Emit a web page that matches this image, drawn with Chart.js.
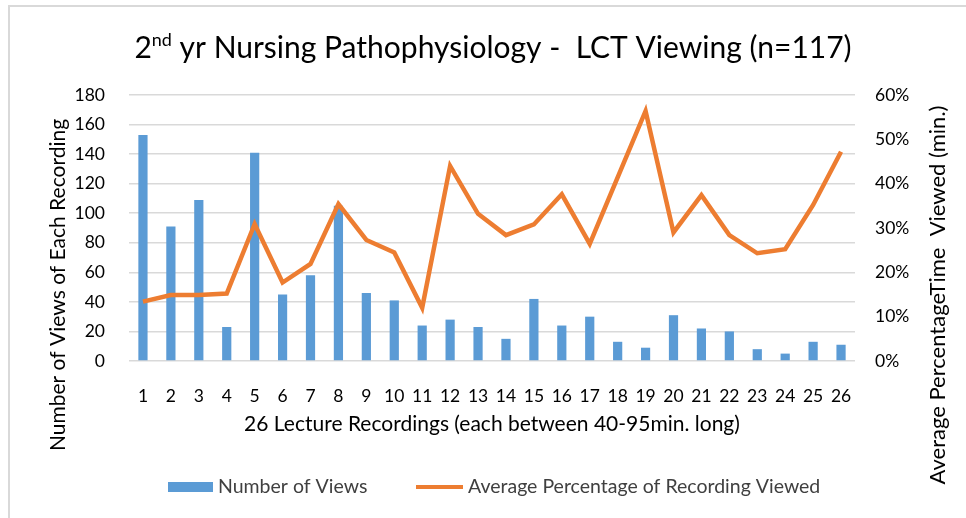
<!DOCTYPE html>
<html>
<head>
<meta charset="utf-8">
<script src="https://cdn.jsdelivr.net/npm/chart.js@4.4.1/dist/chart.umd.min.js"></script>
<style>
  html, body { margin: 0; padding: 0; background: #fff; }
  #wrap { width: 966px; height: 518px; position: relative; }
</style>
</head>
<body>
<div id="wrap"><canvas id="lct"></canvas></div>
<script>
// values
var recordings = ['1','2','3','4','5','6','7','8','9','10','11','12','13','14','15','16','17','18','19','20','21','22','23','24','25','26'];
var views = [153, 91, 109, 23, 141, 45, 58, 105, 46, 41, 24, 28, 23, 15, 42, 24, 30, 13, 9, 31, 22, 20, 8, 5, 13, 11];
var avgPct = [13.4, 14.9, 14.9, 15.2, 30.9, 17.7, 21.9, 35.4, 27.3, 24.5, 12.0, 44.0, 33.2, 28.4, 30.8, 37.6, 26.4, 41.4, 56.4, 29.0, 37.4, 28.4, 24.3, 25.2, 35.2, 47.2];

var FONT = 'Lato, "Open Sans", sans-serif';
var blue = '#5B9BD5';
var orange = '#ED7D31';
var txt = '#404040';

// title, axis titles, legend and frame
var decor = {
  id: 'decor',
  afterDraw: function(chart) {
    var c = chart.ctx;
    var a = chart.chartArea;
    c.save();
    // frame
    c.strokeStyle = '#d9d9d9';
    c.lineWidth = 2;
    c.strokeRect(9, 6, 970, 530);

    c.fillStyle = '#000';
    c.textBaseline = 'alphabetic';
    // title with superscript
    var big = '30px ' + FONT, small = '18px ' + FONT;
    var p1 = '2', p2 = 'nd', p3 = ' yr Nursing Pathophysiology -  LCT Viewing (n=117)';
    c.font = big; var w1 = c.measureText(p1).width, w3 = c.measureText(p3).width;
    c.font = small; var w2 = c.measureText(p2).width;
    var x = 493 - (w1 + w2 + w3) / 2, y = 58;
    c.font = big; c.fillText(p1, x, y);
    c.font = small; c.fillText(p2, x + w1, y - 12);
    c.font = big; c.fillText(p3, x + w1 + w2, y);

    // axis titles
    c.font = '21px ' + FONT;
    c.fillStyle = '#000';
    c.textAlign = 'center';
    c.textBaseline = 'middle';
    c.fillText('26 Lecture Recordings (each between 40-95min. long)', (a.left + a.right) / 2, 424);
    c.save();
    c.translate(58, 285);
    c.rotate(-Math.PI / 2);
    c.fillText('Number of Views of Each Recording', 0, 0);
    c.restore();
    c.save();
    c.translate(938, 295);
    c.rotate(-Math.PI / 2);
    c.font = '22px ' + FONT;
    c.fillText('Average PercentageTime  Viewed (min.)', 0, 0);
    c.restore();

    // legend
    var ly = 487;
    c.textAlign = 'left';
    c.font = '19.5px ' + FONT;
    c.fillStyle = blue;
    c.fillRect(168, ly - 5, 45, 10);
    c.fillStyle = txt;
    c.fillText(chart.data.datasets[1].label, 218, ly);
    c.strokeStyle = orange;
    c.lineWidth = 4;
    c.beginPath();
    c.moveTo(416, ly);
    c.lineTo(463, ly);
    c.stroke();
    c.fillText(chart.data.datasets[0].label, 468, ly);
    c.restore();
  }
};

new Chart(document.getElementById('lct'), {
  type: 'bar',
  data: {
    labels: recordings,
    datasets: [
      {
        type: 'line',
        label: 'Average Percentage of Recording Viewed',
        data: avgPct,
        yAxisID: 'pct',
        borderColor: orange,
        backgroundColor: orange,
        borderWidth: 4.5,
        pointRadius: 0,
        tension: 0,
        order: 0
      },
      {
        label: 'Number of Views',
        data: views,
        yAxisID: 'views',
        backgroundColor: blue,
        barPercentage: 0.33,
        categoryPercentage: 1,
        order: 1
      }
    ]
  },
  options: {
    responsive: true,
    maintainAspectRatio: false,
    animation: false,
    layout: { padding: { top: 95, left: 0, right: 0, bottom: 0 } },
    plugins: {
      legend: { display: false },
      title: { display: false },
      tooltip: { enabled: false }
    },
    scales: {
      x: {
        grid: { display: false },
        border: { display: false },
        ticks: { color: '#000', font: { family: FONT, size: 17.5 }, padding: 17, maxRotation: 0, autoSkip: false },
        afterFit: function(s) { s.height = 157; }
      },
      views: {
        position: 'left',
        min: 0, max: 180,
        ticks: { stepSize: 20, color: '#000', font: { family: FONT, size: 17.5 }, padding: 24 },
        grid: { color: '#d9d9d9', lineWidth: 1.5, drawTicks: false },
        border: { display: false },
        afterFit: function(s) { s.width = 129; }
      },
      pct: {
        position: 'right',
        min: 0, max: 60,
        ticks: { stepSize: 10, color: '#000', font: { family: FONT, size: 17.5 }, padding: 20,
                 callback: function(v) { return v + '%'; } },
        grid: { display: false, drawTicks: false },
        border: { display: false },
        afterFit: function(s) { s.width = 111; }
      }
    }
  },
  plugins: [decor]
});
</script>
</body>
</html>
